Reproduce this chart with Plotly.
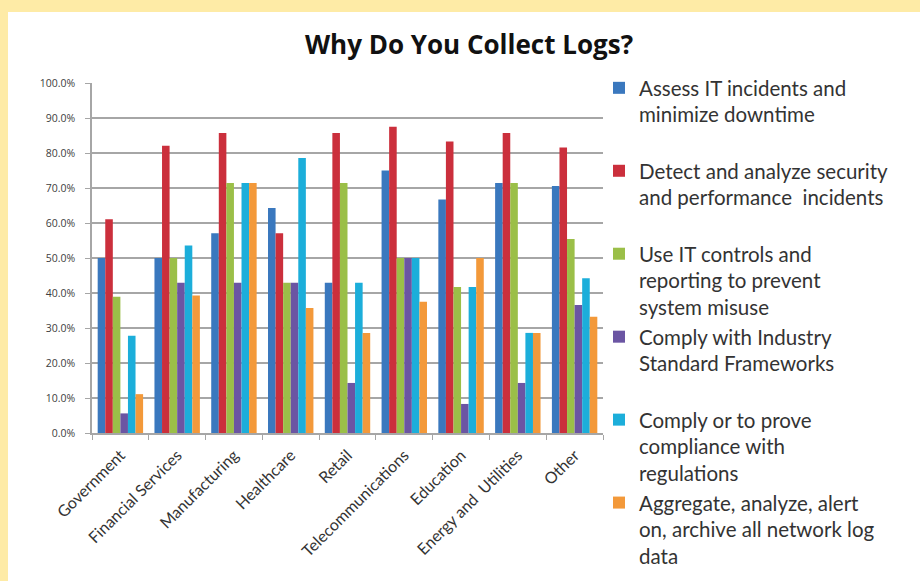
import plotly.graph_objects as go

categories = ["Government", "Financial Services", "Manufacturing", "Healthcare", "Retail",
              "Telecommunications", "Education", "Energy and  Utilities", "Other"]

series_names = [
    "Assess IT incidents and<br>minimize downtime<br> ",
    "Detect and analyze security<br>and performance  incidents<br> ",
    "Use IT controls and<br>reporting to prevent<br>system misuse",
    "Comply with Industry<br>Standard Frameworks<br> ",
    "Comply or to prove<br>compliance with<br>regulations",
    "Aggregate, analyze, alert<br>on, archive all network log<br>data",
]

assess = [50.0, 50.0, 57.1, 64.3, 42.9, 75.0, 66.7, 71.4, 70.6]
detect = [61.1, 82.1, 85.7, 57.1, 85.7, 87.5, 83.3, 85.7, 81.6]
controls = [38.9, 50.0, 71.4, 42.9, 71.4, 50.0, 41.7, 71.4, 55.4]
industry = [5.6, 42.9, 42.9, 42.9, 14.3, 50.0, 8.3, 14.3, 36.6]
regulations = [27.8, 53.6, 71.4, 78.6, 42.9, 50.0, 41.7, 28.6, 44.2]
aggregate = [11.1, 39.3, 71.4, 35.7, 28.6, 37.5, 50.0, 28.6, 33.2]

y_ticks = [0, 10, 20, 30, 40, 50, 60, 70, 80, 90, 100]
y_tick_labels = ["0.0%", "10.0%", "20.0%", "30.0%", "40.0%", "50.0%",
                 "60.0%", "70.0%", "80.0%", "90.0%", "100.0%"]

colors = ["#3A78BE", "#CB2F3C", "#9BBF48", "#6B55A3", "#1CAEDA", "#F3993A"]
series_values = [assess, detect, controls, industry, regulations, aggregate]

fig = go.Figure()
for i, (name, vals) in enumerate(zip(series_names, series_values)):
    fig.add_trace(go.Bar(
        x=categories, y=vals, name=name, marker_color=colors[i],
        marker_line_width=0, legendgroup="g%d" % i,
    ))

W, H = 920, 581
L, R, T, B = 92, 317, 83, 148
pw, ph = W - L - R, H - T - B

def px_x(px):
    return (px - L) / pw

def px_y(py):
    return (H - B - py) / ph

fig.update_layout(
    width=W, height=H,
    margin=dict(l=L, r=R, t=T, b=B),
    paper_bgcolor="#FEEBA6",
    plot_bgcolor="rgba(0,0,0,0)",
    barmode="group",
    bargap=0.2,
    bargroupgap=0,
    font=dict(family="Lato, Open Sans, sans-serif", color="#333333"),
    title=dict(text="<b>Why Do You Collect Logs?</b>", x=469 / W, xref="container", xanchor="center",
               y=1 - 45 / H, yref="container", yanchor="middle",
               font=dict(family="Open Sans, sans-serif", size=26, color="#111111")),
    legend=dict(x=px_x(599), xanchor="left", y=px_y(68), yanchor="top",
                valign="top", tracegroupgap=0, bgcolor="rgba(0,0,0,0)",
                maxheight=560,
                font=dict(family="Lato, sans-serif", size=20.5, color="#333333"),
                itemclick=False),
    showlegend=True,
    shapes=[dict(type="rect", xref="paper", yref="paper", layer="below",
                 x0=px_x(8), x1=px_x(930), y0=px_y(600), y1=px_y(12),
                 fillcolor="#FFFFFF", line_width=0)],
)

fig.update_yaxes(
    range=[0, 100], tickvals=y_ticks, ticktext=y_tick_labels,
    showgrid=True, gridcolor="#A6A6A6", gridwidth=1.5,
    showline=True, linecolor="#A6A6A6", linewidth=1.5,
    ticks="outside", ticklen=5, tickcolor="#A6A6A6", ticklabelstandoff=8,
    tickfont=dict(family="Open Sans, sans-serif", size=10.5, color="#404040"),
    zeroline=False,
)
fig.update_xaxes(
    tickangle=-45, tickson="boundaries", ticks="outside", ticklen=5, tickcolor="#A6A6A6",
    showline=True, linecolor="#A6A6A6", linewidth=1.5, ticklabelstandoff=5,
    tickfont=dict(family="Lato, sans-serif", size=16, color="#333333"),
)

fig.write_html("out.html", config={"displayModeBar": False},
               post_script="document.body.style.margin='0';")
